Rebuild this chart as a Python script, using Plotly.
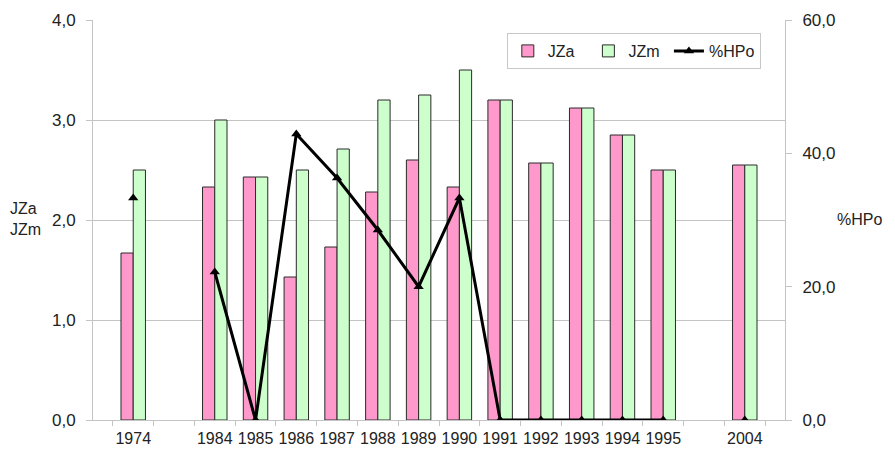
import plotly.graph_objects as go

categories = ["1974", " ", "1984", "1985", "1986", "1987", "1988", "1989", "1990",
              "1991", "1992", "1993", "1994", "1995", "  ", "2004"]
jza = [1.67, None, 2.33, 2.43, 1.43, 1.73, 2.28, 2.60, 2.33,
       3.20, 2.57, 3.12, 2.85, 2.50, None, 2.55]
jzm = [2.50, None, 3.00, 2.43, 2.50, 2.71, 3.20, 3.25, 3.50,
       3.20, 2.57, 3.12, 2.85, 2.50, None, 2.55]
hpo = [33.3, None, 22.2, 0.0, 42.9, 36.3, 28.5, 20.0, 33.3,
       0.0, 0.0, 0.0, 0.0, 0.0, None, 0.0]

FONT = "Liberation Sans, Arial, sans-serif"
GRID = "#c4c4c4"
NB = "\u00a0"

fig = go.Figure()
fig.add_trace(go.Bar(x=categories, y=jza, name="JZa" + NB * 2,
                     marker=dict(color="#FF99CC", line=dict(color="#2a2a2a", width=1))))
fig.add_trace(go.Bar(x=categories, y=jzm, name="JZm" + NB,
                     marker=dict(color="#CCFFCC", line=dict(color="#2a2a2a", width=1))))
fig.add_trace(go.Scatter(x=categories, y=hpo, name="%HPo", yaxis="y2",
                         mode="lines+markers", connectgaps=False,
                         line=dict(color="black", width=3),
                         marker=dict(symbol="triangle-up", size=9, color="black")))

fig.update_layout(
    width=887, height=444,
    margin=dict(l=85, r=110, t=12, b=32, autoexpand=False),
    paper_bgcolor="white", plot_bgcolor="white",
    font=dict(family=FONT, size=16, color="#222"),
    separators=",.",
    barmode="group", bargap=0.4, bargroupgap=0,
    showlegend=True,
    legend=dict(orientation="h", x=0.598, xanchor="left", y=0.9675, yanchor="top",
                bgcolor="white", bordercolor="#c8c8c8", borderwidth=1,
                font=dict(size=16), itemwidth=30, tracegroupgap=0),
    xaxis=dict(type="category", categoryorder="array", categoryarray=categories,
               showline=True, linecolor=GRID, linewidth=1,
               ticks="outside", tickson="boundaries", ticklen=5, tickcolor=GRID,
               showgrid=False, tickfont=dict(size=16), ticklabelstandoff=4,
               tickangle=0, automargin=False, fixedrange=True),
    yaxis=dict(range=[0, 4], dtick=1, tickformat=".1f",
               showline=True, linecolor=GRID, linewidth=1,
               ticks="outside", ticklen=6, tickcolor=GRID,
               showgrid=True, gridcolor=GRID, gridwidth=1, zeroline=False,
               tickfont=dict(size=17), ticklabelstandoff=7, automargin=False),
    yaxis2=dict(range=[0, 60], dtick=20, tickformat=".1f", overlaying="y", side="right",
                showline=True, linecolor=GRID, linewidth=1,
                ticks="outside", ticklen=6, tickcolor=GRID,
                showgrid=False, zeroline=False, tickfont=dict(size=17),
                ticklabelstandoff=7, automargin=False),
    annotations=[
        dict(text="JZa<br>JZm", xref="paper", yref="paper", x=-0.1228, y=0.5025,
             xanchor="left", yanchor="middle", showarrow=False, align="left",
             font=dict(size=16)),
        dict(text="%HPo", xref="paper", yref="paper", x=1.108, y=0.5025,
             xanchor="center", yanchor="middle", showarrow=False,
             font=dict(size=16)),
    ],
)

fig.write_html("out.html")
